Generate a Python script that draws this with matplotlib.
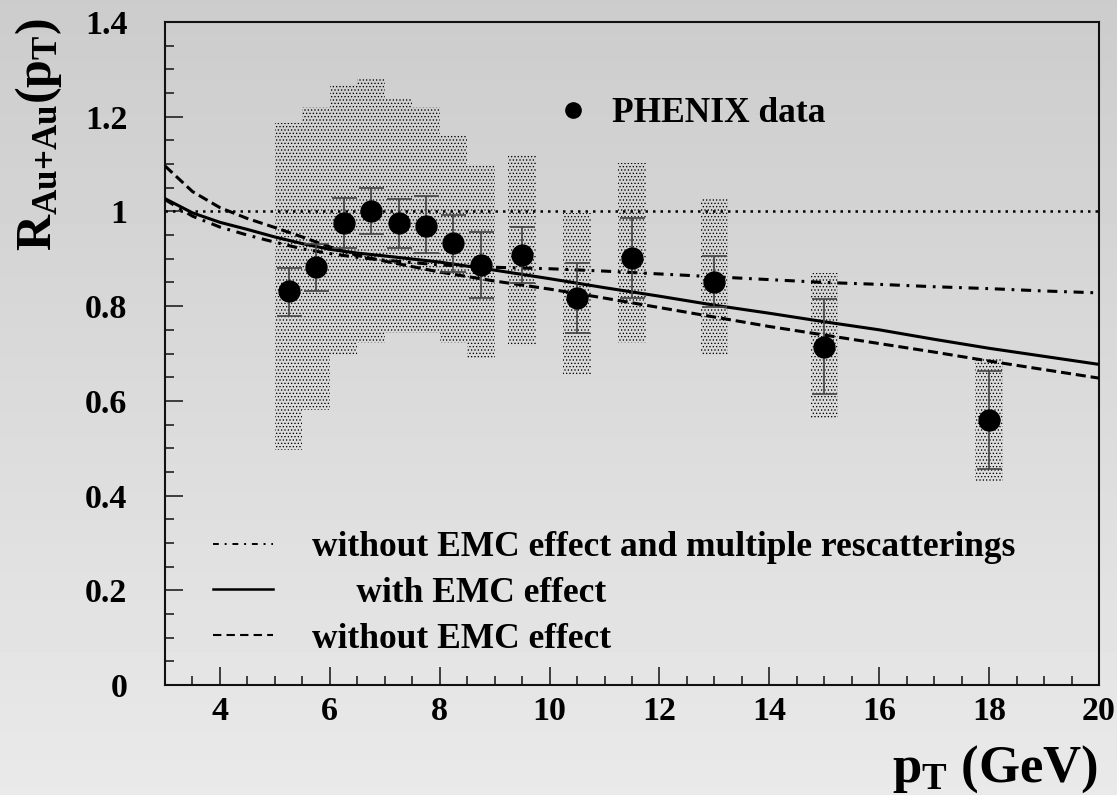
import numpy as np
import matplotlib
matplotlib.use("Agg")
import matplotlib.pyplot as plt
from matplotlib.lines import Line2D
from matplotlib.ticker import MultipleLocator, FuncFormatter

# ---------------- data ----------------
pt = [5.25, 5.75, 6.25, 6.75, 7.25, 7.75, 8.25, 8.75, 9.5, 10.5, 11.5, 13, 15, 18]
raa = [0.832, 0.882, 0.975, 1.000, 0.975, 0.970, 0.934, 0.886, 0.908, 0.817, 0.901, 0.852, 0.714, 0.560]
stat_lo = [0.780, 0.832, 0.923, 0.952, 0.923, 0.912, 0.873, 0.817, 0.849, 0.743, 0.817, 0.798, 0.614, 0.456]
stat_hi = [0.881, 0.932, 1.028, 1.049, 1.026, 1.032, 0.992, 0.956, 0.968, 0.892, 0.986, 0.906, 0.816, 0.664]
sys_lo = [0.496, 0.581, 0.697, 0.722, 0.743, 0.743, 0.722, 0.690, 0.716, 0.655, 0.723, 0.697, 0.564, 0.429]
sys_hi = [1.187, 1.220, 1.270, 1.280, 1.237, 1.220, 1.160, 1.100, 1.119, 0.997, 1.103, 1.026, 0.870, 0.691]

curve_pt = [3, 3.5, 4, 4.5, 5, 5.5, 6, 6.5, 7, 8, 9, 10, 11, 12, 13, 14, 15, 16, 17, 18, 19, 20]
with_emc = [1.027, 0.997, 0.977, 0.962, 0.946, 0.932, 0.920, 0.912, 0.906, 0.893, 0.876, 0.858,
            0.839, 0.821, 0.802, 0.785, 0.767, 0.750, 0.730, 0.711, 0.694, 0.677]
without_emc = [1.096, 1.042, 1.008, 0.985, 0.966, 0.946, 0.925, 0.907, 0.895, 0.872, 0.853, 0.836,
               0.817, 0.797, 0.777, 0.757, 0.739, 0.721, 0.703, 0.684, 0.666, 0.648]
without_emc_resc = [1.025, 0.990, 0.967, 0.950, 0.935, 0.921, 0.911, 0.903, 0.897, 0.887, 0.882, 0.879,
                    0.874, 0.868, 0.862, 0.856, 0.850, 0.846, 0.841, 0.837, 0.832, 0.828]
unity_pt = [3, 20]
unity = [1.0, 1.0]

x_ticks = [4, 6, 8, 10, 12, 14, 16, 18, 20]
y_ticks = [0, 0.2, 0.4, 0.6, 0.8, 1.0, 1.2, 1.4]

lbl_resc = "without EMC effect and multiple rescatterings"
lbl_emc = "     with EMC effect"
lbl_noemc = "without EMC effect"
lbl_data = "PHENIX data"

# ---------------- style ----------------
plt.rcParams['font.family'] = ['Liberation Serif', 'DejaVu Serif']
plt.rcParams['font.weight'] = 'bold'
plt.rcParams['mathtext.fontset'] = 'custom'
plt.rcParams['mathtext.rm'] = 'Liberation Serif:bold'
plt.rcParams['mathtext.it'] = 'Liberation Serif:bold'
plt.rcParams['mathtext.bf'] = 'Liberation Serif:bold'
plt.rcParams['hatch.linewidth'] = 0.55

W, H = 1117, 795
fig = plt.figure(figsize=(W / 100, H / 100), dpi=100)

# background gradient
bg = fig.add_axes([0, 0, 1, 1], zorder=-10)
grad = np.linspace(0.80, 0.915, 256).reshape(-1, 1)
bg.imshow(grad, cmap='gray', vmin=0, vmax=1, aspect='auto', extent=[0, 1, 0, 1], origin='upper')
bg.set_axis_off()

L, R, B, T = 165, 1099, 685, 22
ax = fig.add_axes([L / W, 1 - B / H, (R - L) / W, (B - T) / H])
ax.set_facecolor('none')

# systematic bands
ax.bar(pt, np.array(sys_hi) - np.array(sys_lo), bottom=sys_lo, width=0.5,
       facecolor='none', edgecolor='#000000', linewidth=0, hatch='.....', zorder=1)

# curves
ax.plot(unity_pt, unity, color='black', lw=1.8, ls=(0, (1, 2.0)), zorder=2)
ax.plot(curve_pt, without_emc_resc, color='black', lw=2.2, ls=(0, (3.3, 2.2, 0.9, 2.2)), zorder=3)
ax.plot(curve_pt, with_emc, color='black', lw=2.2, ls='-', zorder=3)
ax.plot(curve_pt, without_emc, color='black', lw=2.2, ls=(0, (3.3, 1.6)), zorder=3)

# data with stat errors
yerr = [np.array(raa) - np.array(stat_lo), np.array(stat_hi) - np.array(raa)]
ax.errorbar(pt, raa, yerr=yerr, fmt='o', color='black', ecolor='#444444', elinewidth=1.2,
            capsize=9, capthick=1.2, markersize=15, zorder=5)

ax.set_xlim(3, 20)
ax.set_ylim(0, 1.4)
ax.set_xticks(x_ticks)
ax.set_yticks(y_ticks)
ax.xaxis.set_minor_locator(MultipleLocator(0.5))
ax.yaxis.set_minor_locator(MultipleLocator(0.05))
ax.yaxis.set_major_formatter(FuncFormatter(lambda v, p: f"{v:g}"))
ax.tick_params(which='both', direction='in', top=False, right=False, width=1.2, color='#222222')
ax.tick_params(which='major', length=13)
ax.tick_params(which='minor', length=6.5)
ax.tick_params(axis='y', which='major', pad=27, labelsize=24.5)
ax.tick_params(axis='x', which='major', pad=8, labelsize=24.5)
for s in ax.spines.values():
    s.set_linewidth(1.5)
    s.set_color('#111111')

# legends
fs = 25.5
fpx = fs * 100 / 72
h_data = [Line2D([], [], marker='o', ls='none', color='black', markersize=11)]
leg1 = ax.legend(h_data, [lbl_data], loc='center left', bbox_to_anchor=(560 / W, 1 - 114 / H),
                 bbox_transform=fig.transFigure, frameon=False, fontsize=fs, borderpad=0,
                 borderaxespad=0, handlelength=26 / fpx, handletextpad=26 / fpx)
ax.add_artist(leg1)

h_lines = [Line2D([], [], color='black', lw=1.4, ls=(0, (3, 3, 1, 3))),
           Line2D([], [], color='black', lw=1.8, ls='-'),
           Line2D([], [], color='black', lw=1.5, ls=(0, (4, 2.5)))]
ax.legend(h_lines, [lbl_resc, lbl_emc, lbl_noemc], loc='upper left',
          bbox_to_anchor=(213 / W, 1 - 531 / H), bbox_transform=fig.transFigure,
          frameon=False, fontsize=fs, borderpad=0, borderaxespad=0,
          handlelength=60 / fpx, handletextpad=39 / fpx, labelspacing=0.36)

# axis labels
fig.text(1098 / W, 1 - 782 / H, r'$\mathrm{p_T}$ (GeV)', ha='right', va='baseline', fontsize=38)
fig.text(39 / W, 1 - 135 / H, r'$\mathrm{R_{Au{+}Au}(p_T)}$', rotation=90, ha='center', va='center',
         fontsize=36)

fig.savefig('out.png', dpi=100)
